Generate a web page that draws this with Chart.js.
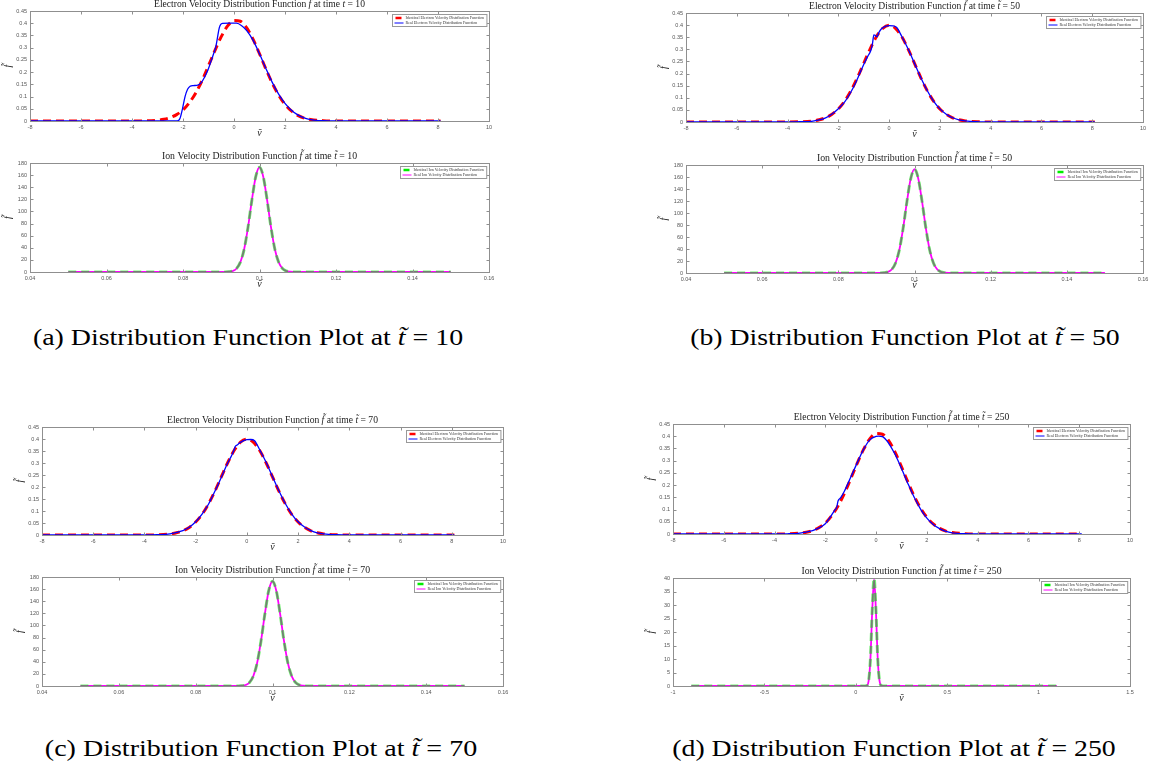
<!DOCTYPE html>
<html>
<head>
<meta charset="utf-8">
<script src="https://cdn.jsdelivr.net/npm/chart.js@4.4.1/dist/chart.umd.min.js"></script>
<style>
  body { margin: 0; background: #fff; width: 1151px; height: 768px; position: relative; overflow: hidden; }
  .panel { position: absolute; }
  .caption { position: absolute; font-family: "Liberation Serif", "DejaVu Serif", serif; font-size: 24px; line-height: 24px;
             color: #000; white-space: nowrap; transform: translateX(-50%); }
</style>
</head>
<body>
<div class="caption" data-w="430" style="left:248px; top:325px">(a) Distribution Function Plot at <i>t̃</i> = 10</div>
<div class="caption" data-w="430" style="left:905px; top:325px">(b) Distribution Function Plot at <i>t̃</i> = 50</div>
<div class="caption" data-w="432" style="left:261px; top:736px">(c) Distribution Function Plot at <i>t̃</i> = 70</div>
<div class="caption" data-w="444" style="left:894px; top:736px">(d) Distribution Function Plot at <i>t̃</i> = 250</div>
<script>
// tick labels
const eTicksX = [-8, -6, -4, -2, 0, 2, 4, 6, 8, 10];
const eTicksY = [0, 0.05, 0.1, 0.15, 0.2, 0.25, 0.3, 0.35, 0.4, 0.45];
const iTicksX = [0.04, 0.06, 0.08, 0.1, 0.12, 0.14, 0.16];
const iTicksY = [0, 20, 40, 60, 80, 100, 120, 140, 160, 180];
const iTicksX250 = [-1, -0.5, 0, 0.5, 1, 1.5];
const iTicksY250 = [0, 5, 10, 15, 20, 25, 30, 35, 40];

// electron, ideal curves
const eIdealV = [-8, -6, -4, -3.5, -3, -2.75, -2.5, -2.25, -2, -1.75, -1.5, -1.25, -1, -0.75, -0.5, -0.25, 0,
                 0.25, 0.5, 0.75, 1, 1.25, 1.5, 1.75, 2, 2.25, 2.5, 2.75, 3, 3.5, 4, 6, 8.1];
const eIdealShift = [0, 0, 0.0001, 0.0006, 0.0034, 0.0071, 0.014, 0.026, 0.045, 0.075, 0.115, 0.166, 0.226, 0.288,
                     0.345, 0.389, 0.411, 0.408, 0.381, 0.334, 0.275, 0.213, 0.155, 0.106, 0.068, 0.041, 0.023,
                     0.012, 0.006, 0.0013, 0.0002, 0, 0];
const eIdealStd = [0, 0, 0.0001, 0.0009, 0.0044, 0.0091, 0.0175, 0.0317, 0.054, 0.086, 0.1295, 0.1826, 0.242,
                   0.3011, 0.352, 0.3867, 0.399, 0.3867, 0.352, 0.3011, 0.242, 0.1826, 0.1295, 0.086, 0.054,
                   0.0317, 0.0175, 0.0091, 0.0044, 0.0009, 0.0001, 0, 0];

// electron, real curves
const eRealV10 = [-8, -2.22, -2.12, -2.02, -1.92, -1.82, -1.72, -1.6, -1.45, -1.3, -1.15, -1.0, -0.9, -0.8, -0.72,
                  -0.65, -0.58, -0.52, -0.45, -0.2, 0.1, 0.3, 0.5, 0.75, 1, 1.25, 1.5, 1.75, 2, 2.25, 2.5, 2.75,
                  3, 3.5, 4, 6, 8.1];
const eReal10 = [0, 0, 0.01, 0.05, 0.1, 0.13, 0.142, 0.145, 0.146, 0.155, 0.18, 0.215, 0.245, 0.275, 0.3, 0.34,
                 0.38, 0.395, 0.399, 0.4, 0.4, 0.39, 0.37, 0.33, 0.275, 0.215, 0.158, 0.11, 0.072, 0.044, 0.025,
                 0.013, 0.006, 0.001, 0, 0, 0];
const eRealV50 = [-8, -4, -3.5, -3, -2.5, -2.25, -2, -1.75, -1.5, -1.35, -1.2, -1, -0.85, -0.72, -0.66, -0.6, -0.55,
                  -0.48, -0.4, -0.3, -0.15, 0, 0.15, 0.3, 0.5, 0.75, 1, 1.25, 1.5, 1.75, 2, 2.25, 2.5, 2.75, 3,
                  3.5, 4, 6, 8.1];
const eReal50 = [0, 0.0001, 0.001, 0.004, 0.017, 0.033, 0.055, 0.083, 0.125, 0.155, 0.19, 0.237, 0.27, 0.295, 0.32,
                 0.36, 0.358, 0.352, 0.37, 0.385, 0.395, 0.398, 0.397, 0.39, 0.353, 0.301, 0.242, 0.183, 0.13,
                 0.086, 0.054, 0.032, 0.0175, 0.009, 0.0044, 0.0009, 0.0001, 0, 0];
const eRealV70 = [-8, -4, -3.5, -3, -2.5, -2.25, -2, -1.75, -1.5, -1.25, -1, -0.75, -0.6, -0.5, -0.45, -0.38, -0.3,
                  -0.15, 0, 0.15, 0.3, 0.5, 0.75, 1, 1.25, 1.5, 1.75, 2, 2.25, 2.5, 2.75, 3, 3.5, 4, 6, 8.1];
const eReal70 = [0, 0.0001, 0.001, 0.0045, 0.018, 0.032, 0.055, 0.087, 0.128, 0.182, 0.24, 0.3, 0.33, 0.355, 0.37,
                 0.375, 0.382, 0.392, 0.397, 0.398, 0.393, 0.355, 0.303, 0.243, 0.184, 0.131, 0.087, 0.055, 0.033,
                 0.018, 0.009, 0.0045, 0.001, 0.0001, 0, 0];
const eRealV250 = [-8, -4, -3.5, -3, -2.5, -2.25, -2, -1.8, -1.65, -1.55, -1.5, -1.4, -1.25, -1, -0.75, -0.5, -0.25,
                   0, 0.1, 0.25, 0.5, 0.75, 1, 1.25, 1.5, 1.75, 2, 2.25, 2.5, 2.75, 3, 3.5, 4, 6, 8.1];
const eReal250 = [0, 0.0001, 0.0008, 0.004, 0.014, 0.025, 0.042, 0.07, 0.095, 0.11, 0.135, 0.148, 0.175, 0.232,
                  0.29, 0.345, 0.385, 0.399, 0.4, 0.398, 0.37, 0.325, 0.268, 0.207, 0.15, 0.102, 0.065, 0.039,
                  0.022, 0.011, 0.005, 0.001, 0.0001, 0, 0];

// ion curves (ideal and real overlap)
const ionV = [0.05, 0.09, 0.091, 0.092, 0.093, 0.094, 0.095, 0.096, 0.097, 0.098, 0.099, 0.1, 0.101, 0.102, 0.103,
              0.104, 0.105, 0.106, 0.107, 0.108, 0.109, 0.11, 0.15];
const ionF = [0, 0, 0.05, 0.4, 1.7, 5.8, 16.3, 38, 74, 118.5, 157, 173, 157, 118.5, 74, 38, 16.3, 5.8, 1.7, 0.4,
              0.05, 0, 0];
const ionV250 = [-0.9, 0.05, 0.06, 0.07, 0.08, 0.09, 0.1, 0.11, 0.12, 0.13, 0.14, 0.15, 1.1];
const ionIdeal250 = [0, 0, 0.15, 1.8, 10, 28.3, 40, 28.3, 10, 1.8, 0.15, 0, 0];
const ionReal250 = [0, 0, 0.15, 1.8, 10, 28, 39.5, 28, 10, 1.8, 0.15, 0, 0];

const times = ['10', '50', '70', '250'];

function xy(xs, ys) {
  return xs.map((v, i) => ({ x: v, y: ys[i] }));
}

const SERIF = '"Liberation Serif", "DejaVu Serif", serif';
const SANS = '"Liberation Sans", Arial, sans-serif';

// box, inward ticks, title and legend in MATLAB style
const framePlugin = {
  id: 'frame',
  afterDraw(chart, args, opts) {
    const { ctx, chartArea: a, scales: { x, y } } = chart;
    ctx.save();
    ctx.strokeStyle = '#8f8f8f';
    ctx.lineWidth = 1;
    const l = Math.round(a.left) + 0.5, t = Math.round(a.top) + 0.5;
    const r = Math.round(a.right) + 0.5, b = Math.round(a.bottom) + 0.5;
    ctx.strokeRect(l, t, r - l, b - t);
    const len = 3;
    ctx.beginPath();
    x.ticks.forEach(tk => {
      const px = Math.round(x.getPixelForValue(tk.value)) + 0.5;
      ctx.moveTo(px, b); ctx.lineTo(px, b - len);
      ctx.moveTo(px, t); ctx.lineTo(px, t + len);
    });
    y.ticks.forEach(tk => {
      const py = Math.round(y.getPixelForValue(tk.value)) + 0.5;
      ctx.moveTo(l, py); ctx.lineTo(l + len, py);
      ctx.moveTo(r, py); ctx.lineTo(r - len, py);
    });
    ctx.stroke();

    // title, pieces may be italic
    ctx.fillStyle = '#222';
    ctx.textBaseline = 'middle';
    const fontFor = it => (it ? 'italic ' : '') + opts.titleSize + 'px ' + SERIF;
    let total = 0;
    opts.title.forEach(([txt, it]) => { ctx.font = fontFor(it); total += ctx.measureText(txt).width; });
    let tx = (a.left + a.right) / 2 - total / 2;
    opts.title.forEach(([txt, it]) => {
      ctx.font = fontFor(it);
      ctx.fillText(txt, tx, a.top - 7);
      tx += ctx.measureText(txt).width;
    });

    // legend box
    ctx.font = '4px ' + SERIF;
    const tw = Math.max(...opts.legend.map(it => ctx.measureText(it.text).width));
    const bw = tw + 16, bh = opts.legend.length * 5 + 2;
    const bx = Math.round(a.right - 3 - bw) + 0.5, by = Math.round(a.top + 3) + 0.5;
    ctx.fillStyle = '#fff';
    ctx.fillRect(bx, by, bw, bh);
    ctx.strokeStyle = '#999';
    ctx.strokeRect(bx, by, bw, bh);
    opts.legend.forEach((it, i) => {
      const ly = by + 3.5 + i * 5;
      ctx.strokeStyle = it.color;
      ctx.lineWidth = it.width;
      ctx.beginPath();
      ctx.moveTo(bx + (it.dash ? 3 : 2), ly);
      ctx.lineTo(bx + (it.dash ? 9 : 11), ly);
      ctx.stroke();
      ctx.fillStyle = '#333';
      ctx.fillText(it.text, bx + 13, ly);
    });
    ctx.restore();
  }
};

function axis(min, max, ticks, title, isX) {
  return {
    type: 'linear',
    min: min,
    max: max,
    afterBuildTicks: s => { s.ticks = ticks.map(v => ({ value: v })); },
    afterFit: s => { if (isX) s.height = 22; else s.width = 30; },
    grid: { display: false, drawTicks: false },
    border: { display: false },
    ticks: {
      font: { family: SANS, size: 5.5 },
      color: '#555',
      padding: 3,
      maxRotation: 0,
      autoSkip: false,
      callback: v => String(v)
    },
    title: {
      display: true,
      text: title,
      color: '#222',
      font: { family: SERIF, size: 10, style: 'italic' },
      padding: isX ? { top: 0, bottom: 4 } : { top: 2, bottom: 0 }
    }
  };
}

function makePanel(p) {
  const [L, T, R, B] = p.box;
  const cv = document.createElement('canvas');
  cv.width = R - L + 40;
  cv.height = B - T + 36;
  cv.className = 'panel';
  cv.style.left = (L - 30) + 'px';
  cv.style.top = (T - 14) + 'px';
  document.body.appendChild(cv);

  const ion = p.kind === 'ion';
  const idealColor = ion ? 'rgba(0,230,0,0.55)' : '#ff0000';
  const realColor = ion ? '#ff00ff' : '#0000ff';
  const who = ion ? 'Ion' : 'Electron';

  new Chart(cv, {
    type: 'line',
    data: {
      datasets: [
        {
          label: 'Identical ' + who + ' Velocity Distribution Function',
          data: xy(p.idealV, p.ideal),
          borderColor: idealColor,
          borderWidth: 3,
          borderDash: [8, 5],
          pointRadius: 0,
          cubicInterpolationMode: 'monotone',
          order: ion ? 1 : 2
        },
        {
          label: 'Real ' + who + ' Velocity Distribution Function',
          data: xy(p.realV, p.real),
          borderColor: realColor,
          borderWidth: ion ? 1.8 : 1.3,
          pointRadius: 0,
          cubicInterpolationMode: 'monotone',
          order: ion ? 2 : 1
        }
      ]
    },
    options: {
      responsive: false,
      animation: false,
      devicePixelRatio: 1,
      layout: { padding: { left: 0, top: 14, right: 10, bottom: 0 } },
      scales: {
        x: axis(p.xr[0], p.xr[1], p.xt, 'ṽ', true),
        y: axis(p.yr[0], p.yr[1], p.yt, 'f̃', false)
      },
      plugins: {
        legend: { display: false },
        tooltip: { enabled: false },
        frame: {
          title: p.title,
          titleSize: ion ? 9.8 : 9.6,
          legend: [
            { text: 'Identical ' + who + ' Velocity Distribution Function', color: ion ? '#00ee00' : '#ff0000', width: 2.5, dash: true },
            { text: 'Real ' + who + ' Velocity Distribution Function', color: realColor, width: 1, dash: false }
          ]
        }
      }
    },
    plugins: [framePlugin]
  });
}

function eTitle(t, plain) {
  return [['Electron Velocity Distribution Function ', false], [plain ? 'f' : 'f̃', true], [' at time ', false],
          [plain ? 't' : 't̃', true], [' = ' + t, false]];
}
function iTitle(t) {
  return [['Ion Velocity Distribution Function ', false], ['f̃', true], [' at time ', false], ['t̃', true], [' = ' + t, false]];
}

const eRange = { xr: [-8, 10], yr: [0, 0.45], xt: eTicksX, yt: eTicksY };
const iRange = { xr: [0.04, 0.16], yr: [0, 180], xt: iTicksX, yt: iTicksY };

const panels = [
  Object.assign({ kind: 'e', box: [30, 11, 489, 121], title: eTitle(times[0], true),
    idealV: eIdealV, ideal: eIdealShift, realV: eRealV10, real: eReal10 }, eRange),
  Object.assign({ kind: 'ion', box: [30, 163, 489, 272], title: iTitle(times[0]),
    idealV: ionV, ideal: ionF, realV: ionV, real: ionF }, iRange),
  Object.assign({ kind: 'e', box: [686, 13, 1143, 122], title: eTitle(times[1]),
    idealV: eIdealV, ideal: eIdealStd, realV: eRealV50, real: eReal50 }, eRange),
  Object.assign({ kind: 'ion', box: [686, 165, 1143, 273], title: iTitle(times[1]),
    idealV: ionV, ideal: ionF, realV: ionV, real: ionF }, iRange),
  Object.assign({ kind: 'e', box: [42, 427, 503, 535], title: eTitle(times[2]),
    idealV: eIdealV, ideal: eIdealStd, realV: eRealV70, real: eReal70 }, eRange),
  Object.assign({ kind: 'ion', box: [42, 577, 503, 686], title: iTitle(times[2]),
    idealV: ionV, ideal: ionF, realV: ionV, real: ionF }, iRange),
  Object.assign({ kind: 'e', box: [673, 424, 1130, 534], title: eTitle(times[3]),
    idealV: eIdealV, ideal: eIdealShift, realV: eRealV250, real: eReal250 }, eRange),
  { kind: 'ion', box: [673, 578, 1130, 686], title: iTitle(times[3]),
    idealV: ionV250, ideal: ionIdeal250, realV: ionV250, real: ionReal250,
    xr: [-1, 1.5], yr: [0, 40], xt: iTicksX250, yt: iTicksY250 }
];

panels.forEach(makePanel);

// widen the captions a little, Computer Modern runs wider than Times
document.querySelectorAll('.caption').forEach(el => {
  const k = +el.dataset.w / el.offsetWidth;
  el.style.transform = 'translateX(-50%) scaleX(' + k.toFixed(3) + ')';
});
</script>
</body>
</html>
